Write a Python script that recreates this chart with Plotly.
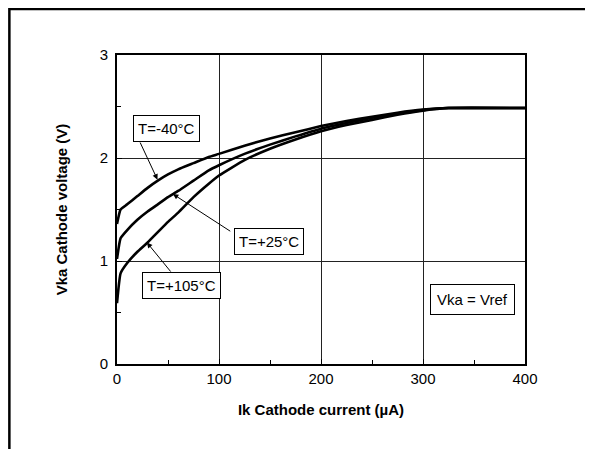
import plotly.graph_objects as go

# Cathode current (uA)
ik = [0, 3.5, 10, 20, 30, 40, 50, 60, 75, 90, 100, 125, 150, 175, 200, 225, 250, 275, 300, 325, 400]
# Cathode voltage (V) per temperature
vka_m40 = [1.36, 1.50, 1.55, 1.63, 1.71, 1.78, 1.84, 1.89, 1.95, 2.01, 2.04, 2.12, 2.19, 2.25, 2.31,
           2.36, 2.40, 2.44, 2.47, 2.485, 2.485]
vka_p25 = [1.02, 1.22, 1.30, 1.40, 1.48, 1.55, 1.62, 1.68, 1.78, 1.88, 1.93, 2.04, 2.13, 2.21, 2.285,
           2.34, 2.39, 2.43, 2.465, 2.485, 2.485]
vka_p105 = [0.59, 0.88, 0.98, 1.09, 1.18, 1.28, 1.38, 1.47, 1.62, 1.75, 1.83, 1.98, 2.09, 2.18, 2.26,
            2.32, 2.37, 2.42, 2.46, 2.485, 2.485]

labels = ["T=-40°C", "T=+25°C", "T=+105°C"]
x_ticks = [0, 100, 200, 300, 400]
y_ticks = [0, 1, 2, 3]

FONT = "Liberation Sans, Arial, sans-serif"

fig = go.Figure()
for v in (vka_m40, vka_p25, vka_p105):
    fig.add_trace(go.Scatter(x=ik, y=v, mode="lines",
                             line=dict(color="black", width=2.6, shape="spline", smoothing=0.4),
                             showlegend=False, hoverinfo="skip"))

# text boxes
boxes = [
    (labels[0], 48.6, 2.29, 4),
    (labels[1], 148.8, 1.185, 4),
    (labels[2], 62.9, 0.764, 4),
    ("Vka = Vref", 348.8, 0.631, 6),
]
for txt, bx, by, pad in boxes:
    fig.add_annotation(x=bx, y=by, xref="x", yref="y", text=txt, showarrow=False,
                       font=dict(family=FONT, size=15, color="black"),
                       bgcolor="white", bordercolor="black", borderwidth=1, borderpad=pad)

# arrows (tail near box, head on curve)
arrows = [
    (22.0, 2.165, 39.7, 1.79),
    (112.5, 1.28, 54.8, 1.65),
    (53.8, 0.883, 29.3, 1.18),
]
for tx, ty, hx, hy in arrows:
    fig.add_annotation(x=hx, y=hy, ax=tx, ay=ty, xref="x", yref="y", axref="x", ayref="y",
                       text="", showarrow=True, arrowhead=2, arrowsize=1.1, arrowwidth=1,
                       arrowcolor="black", standoff=0, startstandoff=0)

# outer frame (left and top edges visible)
fig.add_shape(type="line", xref="paper", yref="paper", x0=-0.2638, x1=-0.2638, y0=-0.5, y1=1.152,
              line=dict(color="black", width=2.5), layer="above")
fig.add_shape(type="line", xref="paper", yref="paper", x0=-0.2638, x1=1.3, y0=1.1489, y1=1.1489,
              line=dict(color="black", width=2.5), layer="above")

axis_common = dict(
    showline=True, linecolor="black", linewidth=2, mirror=True,
    showgrid=True, gridcolor="#222", gridwidth=1,
    ticks="inside", ticklen=5, tickcolor="black", tickwidth=1,
    tickfont=dict(family=FONT, size=15, color="black"),
    zeroline=False,
)
fig.update_xaxes(range=[0, 400], tickvals=x_ticks, ticktext=[str(t) for t in x_ticks],
                 minor=dict(dtick=50, ticks="inside", ticklen=4, tickcolor="black", showgrid=False),
                 title=dict(text="<b>Ik Cathode current (µA)</b>", standoff=18,
                            font=dict(family=FONT, size=15, color="black")),
                 **axis_common)
fig.update_yaxes(range=[0, 3], tickvals=y_ticks, ticktext=[str(t) for t in y_ticks],
                 minor=dict(dtick=0.5, ticks="inside", ticklen=4, tickcolor="black", showgrid=False),
                 ticklabelstandoff=4,
                 title=dict(text="<b>Vka Cathode voltage (V)</b>", standoff=28,
                            font=dict(family=FONT, size=15, color="black")),
                 **axis_common)

fig.update_layout(width=577, height=441, margin=dict(l=108.7, r=60, t=47, b=85.3),
                  paper_bgcolor="white", plot_bgcolor="white",
                  font=dict(family=FONT, size=15, color="black"))

fig.write_html("out.html")
